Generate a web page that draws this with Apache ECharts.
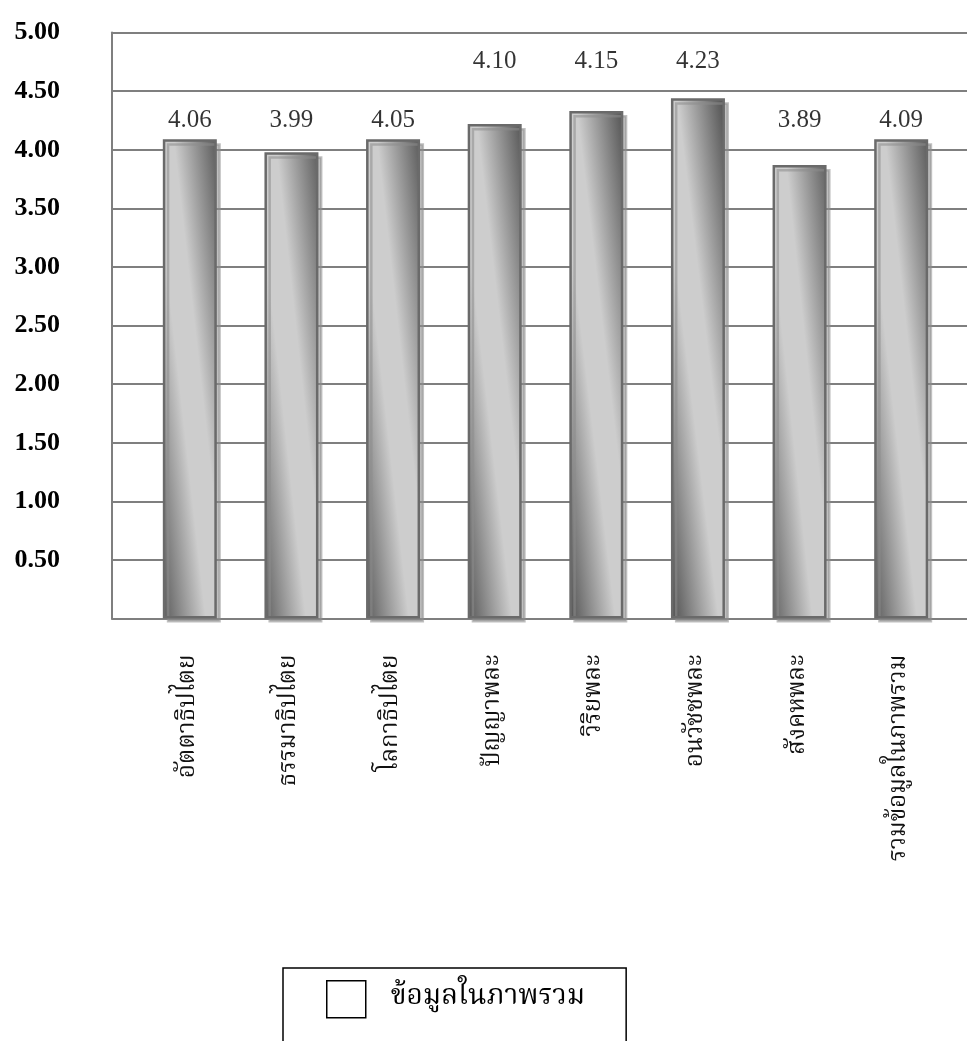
<!DOCTYPE html>
<html>
<head>
<meta charset="utf-8">
<script src="https://cdn.jsdelivr.net/npm/echarts@6/dist/echarts.min.js"></script>
<style>
html,body{margin:0;padding:0;background:#fff;}
#chart{width:967px;height:1041px;}
</style>
</head>
<body>
<div id="chart"></div>
<script>
// ---- data ----
const categories = ['อัตตาธิปไตย', 'ธรรมาธิปไตย', 'โลกาธิปไตย', 'ปัญญาพละ', 'วิริยพละ', 'อนวัชชพละ', 'สังคหพละ', 'รวมข้อมูลในภาพรวม'];
const barHeights = [4.09, 3.98, 4.09, 4.22, 4.33, 4.44, 3.87, 4.09];
const valueLabels = ['4.06', '3.99', '4.05', '4.10', '4.15', '4.23', '3.89', '4.09'];
const seriesName = 'ข้อมูลในภาพรวม';
const yMin = 0, yMax = 5, yStep = 0.5;

// ---- chart ----
const thaiFont = "'Noto Serif Thai','Norasi','Kinnari','Noto Sans Thai Looped','Garuda','Loma','Noto Sans Thai',serif";
const chart = echarts.init(document.getElementById('chart'), null, {renderer: 'canvas'});

const labelPoints = barHeights.map((h, i) => [i, h > 4.15 ? 4.75 : 4.25]);

const option = {
  backgroundColor: '#fff',
  animation: false,
  grid: [
    {left: 112, right: 0, top: 32.6, bottom: 422.4, containLabel: false, outerBoundsMode: 'none'},
    {left: 139, right: 15, top: 32.6, bottom: 422.4, containLabel: false, outerBoundsMode: 'none'}
  ],
  xAxis: [
    {type: 'value', gridIndex: 0, min: 0, max: 1,
      axisLine: {show: true, lineStyle: {color: '#7f7f7f', width: 2}},
      axisTick: {show: false}, axisLabel: {show: false}, splitLine: {show: false}},
    {type: 'category', gridIndex: 1, data: categories,
      axisLine: {show: false}, axisTick: {show: false}, splitLine: {show: false},
      axisLabel: {rotate: 90, margin: 36, fontSize: 24, color: '#111', fontFamily: thaiFont, interval: 0}}
  ],
  yAxis: [
    {type: 'value', gridIndex: 0, min: yMin, max: yMax, interval: yStep,
      axisLine: {show: true, lineStyle: {color: '#7f7f7f', width: 2}},
      axisTick: {show: false},
      splitLine: {show: true, lineStyle: {color: '#7f7f7f', width: 2}},
      axisLabel: {margin: 52, fontSize: 26, fontWeight: 'bold', color: '#000',
        fontFamily: "'Liberation Serif','Times New Roman',serif", padding: [0, 0, 12, 0],
        formatter: v => v === 0 ? '' : v.toFixed(2)}},
    {type: 'value', gridIndex: 1, min: yMin, max: yMax, interval: yStep, show: false,
      splitLine: {show: false}}
  ],
  legend: {
    data: [seriesName],
    left: 283, top: 968,
    padding: [12, 41, 40, 43],
    borderColor: '#000', borderWidth: 1.5, backgroundColor: '#fff',
    icon: 'rect', itemWidth: 39, itemHeight: 37,
    itemStyle: {color: '#fff', borderColor: '#000', borderWidth: 1.5},
    textStyle: {fontSize: 28, color: '#000', fontFamily: thaiFont, padding: [0, 0, 0, 20]}
  },
  series: [
    {
      name: seriesName, type: 'bar', xAxisIndex: 1, yAxisIndex: 1,
      data: barHeights, barWidth: 54,
      itemStyle: {
        color: {type: 'linear', x: -0.49, y: 0.5125, x2: 1.49, y2: 0.4875,
          colorStops: [
            {offset: 0, color: '#5a5a5a'},
            {offset: 0.4, color: '#cdcdcd'},
            {offset: 0.6, color: '#cdcdcd'},
            {offset: 1, color: '#5a5a5a'}
          ]},
        borderColor: '#6a6a6a', borderWidth: 2.5,
        shadowColor: 'rgba(140,140,140,0.55)', shadowOffsetX: 4, shadowOffsetY: 4, shadowBlur: 0
      }
    },
    {
      name: 'labels', type: 'scatter', xAxisIndex: 1, yAxisIndex: 1, silent: true,
      data: labelPoints, symbolSize: 1, itemStyle: {color: 'rgba(0,0,0,0)'},
      label: {show: true, position: 'inside', fontSize: 25, color: '#000',
        fontFamily: "'Liberation Serif','Times New Roman',serif",
        formatter: p => valueLabels[p.dataIndex]}
    }
  ]
};
chart.setOption(option);
</script>
</body>
</html>
